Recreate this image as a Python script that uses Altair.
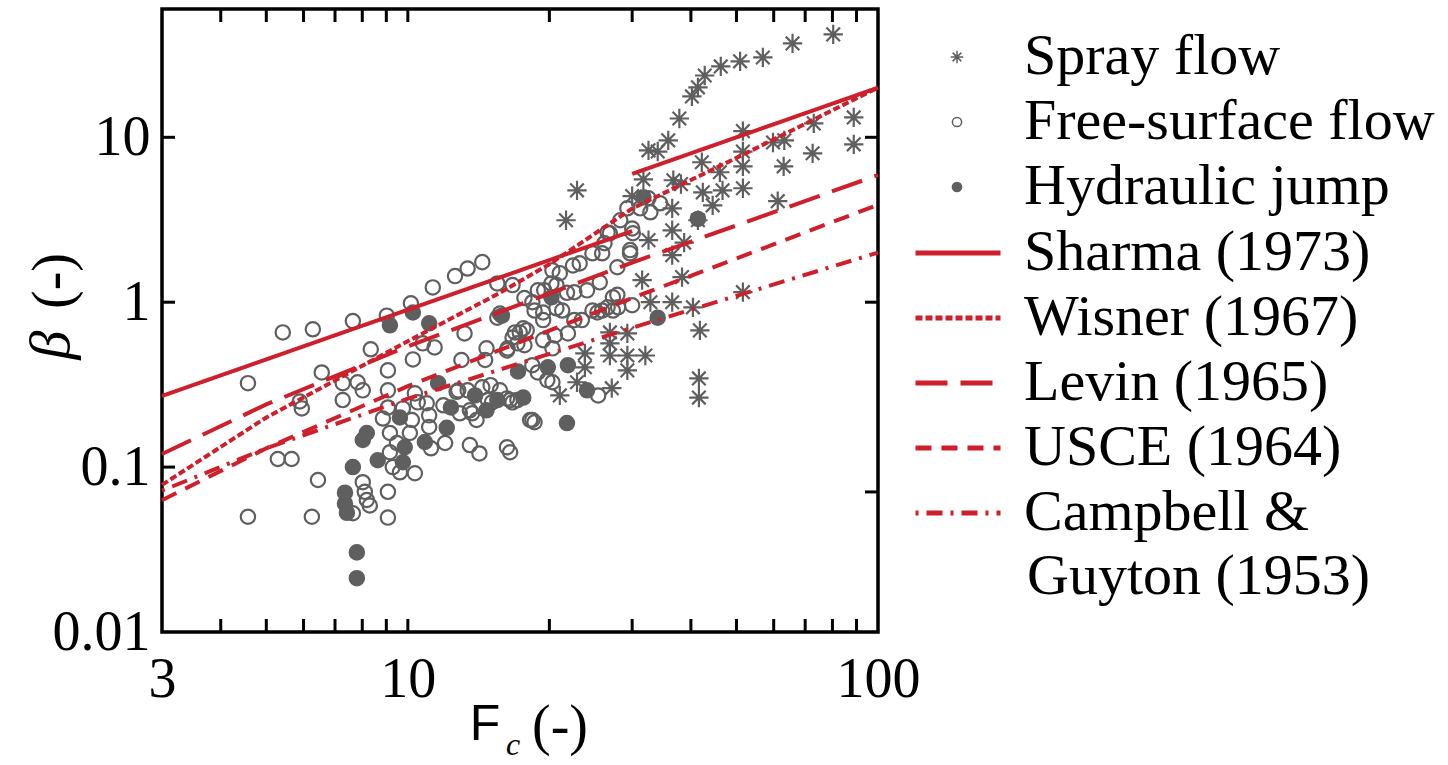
import altair as alt
import pandas as pd

# ---------------- data ----------------
spray_F = [80.3, 65.8, 56.9, 50.9, 46.3, 42.8, 41.4, 40.2, 37.8, 35.8, 34.0, 32.5, 22.9, 21.7,
           51.6, 51.6, 51.6, 51.6, 42.2, 46.1, 46.7, 42.4, 44.5, 38.1, 36.7, 36.5, 31.7, 30.0,
           59.8, 63.2, 63.0, 73.0, 72.6, 88.8, 88.8, 61.2, 41.4, 36.5, 32.5, 38.7, 36.5, 31.5, 38.3,
           32.8, 36.5, 40.4, 51.6, 41.8, 41.6, 41.6, 26.9, 26.9, 26.9, 29.3, 29.3, 29.3, 32.0,
           23.8, 23.8, 22.9, 21.05, 27.15]
spray_beta = [42.1, 37.1, 30.5, 28.9, 26.9, 23.7, 20.1, 17.7, 13.0, 9.59, 8.2, 8.34, 4.77, 3.14,
              10.9, 8.2, 6.67, 4.91, 7.06, 6.14, 4.77, 4.64, 3.87, 5.2, 5.49, 3.71, 5.56, 4.4,
              9.3, 9.59, 6.67, 12.15, 8.0, 13.2, 9.07, 4.1, 3.14, 2.73, 2.38, 2.3, 1.93, 1.36, 1.42,
              1.0, 1.0, 0.931, 1.15, 0.675, 0.345, 0.264, 0.656, 0.563, 0.475, 0.647, 0.475, 0.386, 0.475,
              0.489, 0.403, 0.327, 0.272, 0.301]

free_F = [4.57, 4.57, 5.42, 6.28, 7.64, 9.02, 10.15, 6.56, 5.89, 5.95, 5.29, 5.66, 6.25, 6.44,
          7.27, 7.27, 7.82, 8.02, 8.34, 9.07, 9.07, 10.25, 10.35, 9.76, 9.07, 8.85, 9.16, 9.48,
          9.29, 9.62, 10.35, 9.16, 8.02, 8.10, 8.18, 8.30, 7.64, 9.07, 9.07, 10.1, 10.2, 10.97,
          11.1, 11.2, 12.0, 11.9, 12.8, 13.2, 13.0, 13.7, 14.2, 14.7, 14.6, 15.0, 15.7, 16.25,
          16.5, 17.1, 17.3, 17.1, 18.2, 15.1, 11.4, 10.76, 14.4, 13.4, 12.6, 11.3, 15.5, 15.5,
          16.7, 17.7, 17.6, 18.9, 20.3, 20.7, 22.45, 22.6, 24.05, 25.6, 25.9, 26.9, 30.1, 29.7,
          27.9, 27.9, 28.0, 18.6, 19.4, 20.7, 23.45, 17.9, 16.7, 16.3, 17.7, 20.3, 18.9, 19.8,
          20.3, 25.4, 12.7, 13.4, 14.4, 14.8, 16.5, 13.55, 14.0, 12.9, 11.1, 10.5, 18.4, 13.55,
          16.25, 29.3, 28.3, 26.6, 30.0, 26.2, 29.7, 32.5, 34.4, 32.8, 31.2, 24.7, 23.2, 21.05,
          20.2, 19.5, 21.8, 18.4, 27.3, 30.0, 27.3, 25.9, 24.7, 21.3, 19.4, 22.6, 15.7, 16.9,
          16.25, 18.4, 16.7, 18.6, 19.4, 20.55, 21.9, 25.3, 26.6]
free_beta = [0.323, 0.050, 0.656, 0.685, 0.768, 0.829, 0.986, 0.375, 0.25, 0.227, 0.112, 0.112, 0.050, 0.0835,
             0.255, 0.323, 0.327, 0.292, 0.518, 0.386, 0.292, 0.45, 0.280, 0.227, 0.230, 0.197, 0.161, 0.140,
             0.100, 0.093, 0.0918, 0.123, 0.081, 0.0708, 0.0632, 0.0585, 0.0525, 0.0708, 0.0494, 0.161, 0.193, 0.244,
             0.206, 0.130, 0.140, 0.237, 0.292, 0.647, 0.446, 0.212, 0.121, 0.525, 0.446, 0.314, 0.292, 0.261,
             0.123, 0.255, 0.656, 0.563, 0.193, 0.247, 0.532, 0.563, 1.75, 1.6, 1.44, 1.23, 0.806, 1.30,
             1.27, 1.06, 0.694, 1.18, 1.56, 1.27, 1.67, 1.15, 1.18, 1.32, 1.98, 2.62, 2.62, 1.98,
             1.63, 1.11, 0.931, 0.890, 0.779, 0.918, 0.779, 0.675, 0.611, 0.525, 0.548, 0.525, 0.375, 0.337,
             0.327, 0.272, 0.286, 0.292, 0.305, 0.255, 0.255, 0.221, 0.193, 0.212, 0.175, 0.247, 0.193, 0.136,
             0.132, 3.71, 3.14, 2.65, 2.80, 2.28, 2.07, 4.27, 3.98, 3.51, 3.71, 1.98, 1.72, 1.50,
             1.30, 1.18, 1.14, 1.0, 1.07, 0.958, 0.890, 0.890, 0.890, 0.890, 0.866, 0.779, 0.853, 0.656,
             0.510, 0.415, 0.247, 0.187, 0.589, 0.629, 0.647, 0.866, 0.931]

jump_F = [9.16, 10.25, 11.1, 15.85, 17.15, 17.6, 11.6, 12.35, 13.9, 14.7, 15.5, 9.62, 9.85, 8.02,
          8.18, 8.63, 9.76, 10.87, 12.1, 7.64, 7.35, 7.35, 7.42, 7.79, 7.79, 20.2, 19.85, 21.9,
          24.05, 21.8, 31.7, 34.0, 41.4]
jump_beta = [0.724, 0.866, 0.745, 0.829, 0.38, 0.264, 0.323, 0.23, 0.272, 0.221, 0.255, 0.2, 0.132, 0.146,
             0.161, 0.110, 0.107, 0.142, 0.173, 0.100, 0.070, 0.060, 0.0528, 0.0304, 0.0212, 1.07, 0.403, 0.415,
             0.292, 0.185, 4.33, 0.806, 3.2]

# correlation lines (F, beta)
sharma_lo_F, sharma_lo_beta = [3, 30], [0.27, 2.7]
sharma_hi_F, sharma_hi_beta = [30, 100], [6.0, 20.0]
wisner_F, wisner_beta = [3, 5, 10, 15.7, 20, 30, 50, 100], [0.078, 0.20, 0.58, 1.14, 1.7, 3.7, 7.5, 20.0]
levin_F, levin_beta = [3, 5, 10, 30, 100], [0.12, 0.24, 0.54, 1.74, 5.9]
usce_F, usce_beta = [3, 5, 10, 30, 100], [0.063, 0.13, 0.31, 1.06, 3.9]
campbell_F, campbell_beta = [3, 5, 10, 30, 100], [0.072, 0.13, 0.26, 0.70, 2.0]

regimes = ["Spray flow", "Free-surface flow", "Hydraulic jump"]
line_names = ["Sharma (1973)", "Wisner (1967)", "Levin (1965)", "USCE (1964)", "Campbell & Guyton (1953)"]

x_label_values = [3, 10, 100]
x_tick_values = [4, 5, 6, 7, 8, 9, 10, 20, 30, 40, 50, 60, 70, 80, 90]
y_label_values = [0.01, 0.1, 1, 10]
y_left_ticks = [0.1, 1, 10]
y_right_ticks = [1, 10, 0.0707]

# ---------------- tables ----------------
pts = pd.DataFrame({
    "F": free_F + jump_F + spray_F,
    "beta": free_beta + jump_beta + spray_beta,
    "regime": ["Free-surface flow"] * len(free_F) + ["Hydraulic jump"] * len(jump_F) + ["Spray flow"] * len(spray_F),
})

line_rows = []
for name, seg, Fs, Bs in [
    ("Sharma (1973)", "s1", sharma_lo_F, sharma_lo_beta),
    ("Sharma (1973)", "s2", sharma_hi_F, sharma_hi_beta),
    ("Wisner (1967)", "w", wisner_F, wisner_beta),
    ("Levin (1965)", "l", levin_F, levin_beta),
    ("USCE (1964)", "u", usce_F, usce_beta),
    ("Campbell & Guyton (1953)", "c", campbell_F, campbell_beta),
]:
    for f, b in zip(Fs, Bs):
        line_rows.append({"name": name, "seg": seg, "F": f, "beta": b})
lines = pd.DataFrame(line_rows)

xt = pd.DataFrame({"v": x_tick_values})
ytl = pd.DataFrame({"v": y_left_ticks})
ytr = pd.DataFrame({"v": y_right_ticks})

# ---------------- style ----------------
W, H = 716, 623
TICK = 13
GRAY = "#5f5f5f"
RED = "#cf1f2b"
SERIF = "Liberation Serif"
FS_LEG = 58
AST = "M-1.35,0L1.35,0M0,-1.35L0,1.35M-0.95,-0.95L0.95,0.95M-0.95,0.95L0.95,-0.95"
WIDE_LINE = "M-3.4,0L3.4,0"

xs = alt.Scale(type="log", domain=[3, 100], nice=False)
ys = alt.Scale(type="log", domain=[0.01, 60], nice=False)

pt_legend = alt.Legend(title=None, orient="none", legendX=766, legendY=19,
                       labelFont=SERIF, labelFontSize=FS_LEG, labelColor="black", labelLimit=1000,
                       symbolSize=85, symbolStrokeWidth=1.5, rowPadding=7, labelOffset=38,
                       padding=0)

points = alt.Chart(pts).mark_point(size=205, opacity=1, strokeWidth=2.2).encode(
    x=alt.X("F:Q", scale=xs, axis=None),
    y=alt.Y("beta:Q", scale=ys, axis=None),
    shape=alt.Shape("regime:N", scale=alt.Scale(domain=regimes, range=[AST, "circle", "circle"]), legend=pt_legend),
    fill=alt.Fill("regime:N", scale=alt.Scale(domain=regimes, range=["transparent", "transparent", GRAY]), legend=pt_legend),
    stroke=alt.Stroke("regime:N", scale=alt.Scale(domain=regimes, range=[GRAY, GRAY, GRAY]), legend=pt_legend),
)

line_legend = alt.Legend(title=None, orient="none", legendX=767, legendY=215,
                         labelFont=SERIF, labelFontSize=FS_LEG, labelColor="black", labelLimit=1000,
                         symbolType=WIDE_LINE, symbolSize=625, symbolStrokeWidth=5,
                         symbolStrokeColor=RED, rowPadding=7, labelOffset=37, padding=0,
                         labelExpr="datum.label == 'Campbell & Guyton (1953)' ? 'Campbell &' : datum.label")

corr = alt.Chart(lines).mark_line(color=RED, strokeWidth=4).encode(
    x=alt.X("F:Q", scale=xs, axis=alt.Axis(orient="bottom", values=x_label_values, ticks=False, tickSize=0,
                                            domain=False, grid=False, title=None, labelFont=SERIF,
                                            labelFontSize=56, labelColor="black", labelPadding=20,
                                            labelFlush=False, labelOverlap=False, format="~g")),
    y=alt.Y("beta:Q", scale=ys, axis=alt.Axis(orient="left", values=y_label_values, ticks=False, tickSize=0,
                                               domain=False, grid=False, title=None, labelFont=SERIF,
                                               labelFontSize=56, labelColor="black", labelPadding=12,
                                               labelFlush=False, labelOverlap=False, format="~g")),
    strokeDash=alt.StrokeDash("name:N", scale=alt.Scale(domain=line_names,
                                                        range=[[1, 0], [7, 3], [32, 13], [16, 10], [3, 8, 16, 8]]),
                              legend=line_legend),
    detail="seg:N",
)

# inward tick marks on all four frame edges
tick_bottom = alt.Chart(xt).mark_rule(color="black", strokeWidth=3).encode(
    x=alt.X("v:Q", scale=xs, axis=None), y=alt.value(H), y2=alt.value(H - TICK))
tick_top = alt.Chart(xt).mark_rule(color="black", strokeWidth=3).encode(
    x=alt.X("v:Q", scale=xs, axis=None), y=alt.value(0), y2=alt.value(TICK))
tick_left = alt.Chart(ytl).mark_rule(color="black", strokeWidth=3).encode(
    y=alt.Y("v:Q", scale=ys, axis=None), x=alt.value(0), x2=alt.value(TICK))
tick_right = alt.Chart(ytr).mark_rule(color="black", strokeWidth=3).encode(
    y=alt.Y("v:Q", scale=ys, axis=None), x=alt.value(W), x2=alt.value(W - TICK))


def label(txt, x, y, **kw):
    return alt.Chart(pd.DataFrame({"t": [txt]})).mark_text(**kw).encode(
        x=alt.value(x), y=alt.value(y), text="t:N")


texts = [
    label("β", -110, 336, font=SERIF, fontSize=58, fontStyle="italic", angle=270, color="black"),
    label("(-)", -108, 272, font=SERIF, fontSize=56, angle=270, color="black"),
    label("F", 323, 716, font="Liberation Sans", fontSize=50, color="black"),
    label("c", 351, 736, font=SERIF, fontSize=32, fontStyle="italic", color="black"),
    label("(-)", 398, 718, font=SERIF, fontSize=56, color="black"),
    label("Guyton (1953)", 865, 568, font=SERIF, fontSize=FS_LEG, align="left", color="black"),
]

chart = alt.layer(points, corr, tick_bottom, tick_top, tick_left, tick_right, *texts).resolve_axis(
    x="independent", y="independent"
).properties(
    width=W, height=H,
    padding={"left": 162, "top": 9, "right": 570, "bottom": 133},
    autosize=alt.AutoSizeParams(type="none"),
    background="white",
).configure_view(stroke="black", strokeWidth=3.5)

chart.save("out.html", embed_options={"renderer": "svg", "actions": False})
